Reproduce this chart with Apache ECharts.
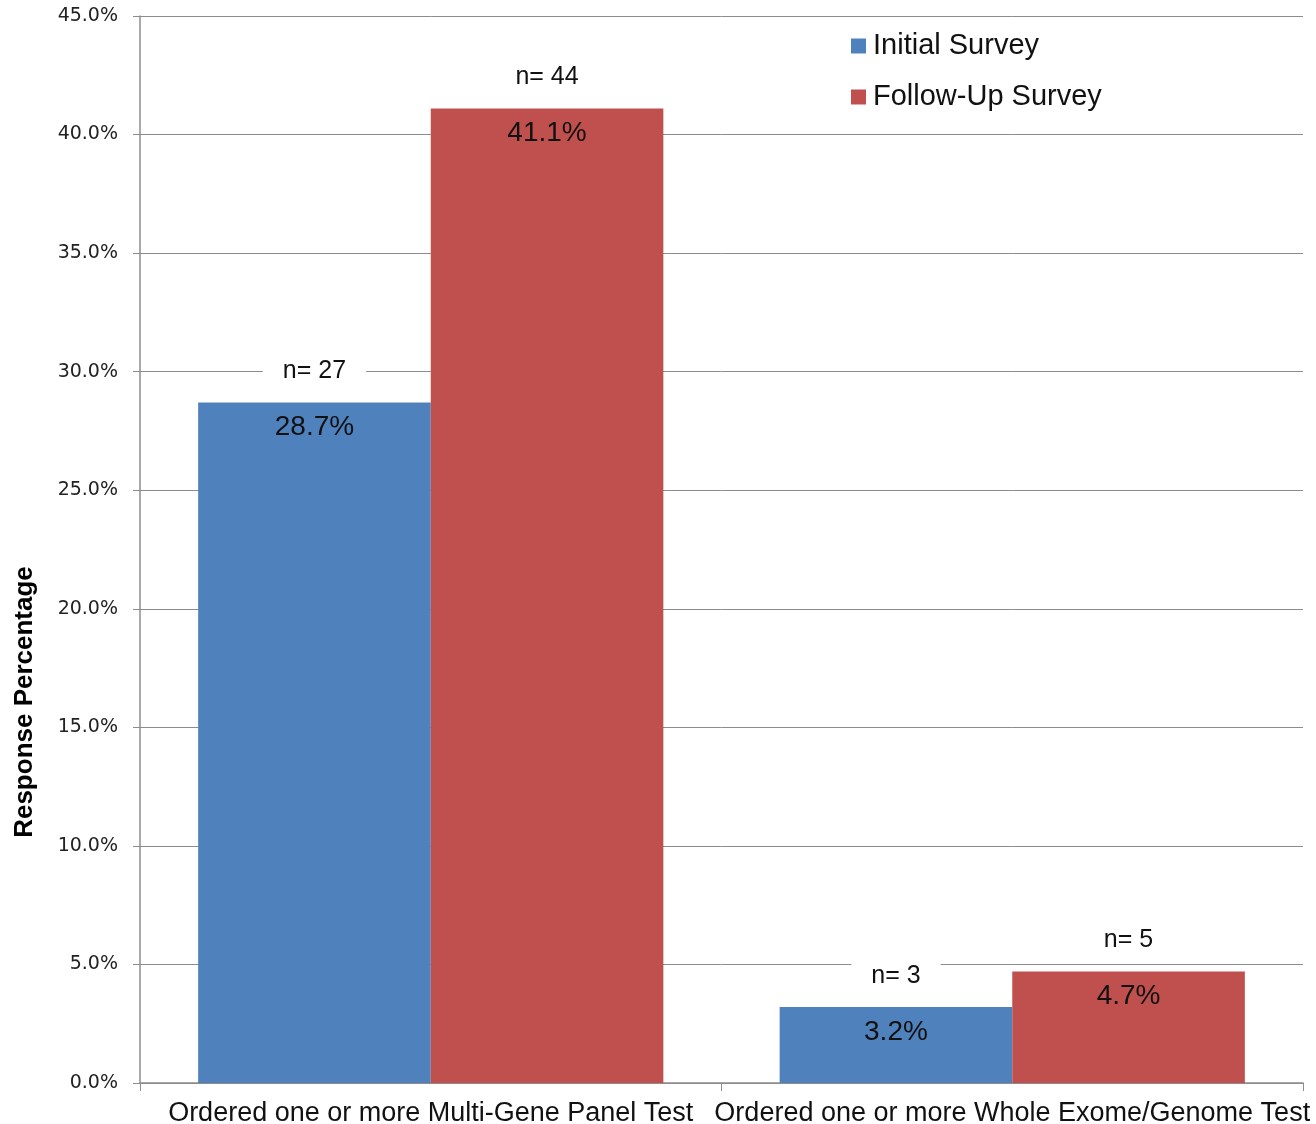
<!DOCTYPE html>
<html>
<head>
<meta charset="utf-8">
<script src="https://cdn.jsdelivr.net/npm/echarts@6/dist/echarts.min.js"></script>
<style>
  html, body { margin: 0; padding: 0; background: #fff; }
  #main { width: 1316px; height: 1124px; }
</style>
</head>
<body>
<div id="main"></div>
<script>
  var categories = ['Ordered one or more Multi-Gene Panel Test', 'Ordered one or more Whole Exome/Genome Test'];
  var seriesNames = ['Initial Survey', 'Follow-Up Survey'];
  var initialValues = [28.7, 3.2];
  var followUpValues = [41.1, 4.7];
  var initialCounts = [27, 3];
  var followUpCounts = [44, 5];

  var myChart = echarts.init(document.getElementById('main'));

  // "n= .." marker sitting above each bar, with a white box that cuts the gridline
  function countMarks(values, counts) {
    return {
      symbol: 'rect',
      symbolSize: 0,
      silent: true,
      label: {
        show: true,
        position: 'inside',
        offset: [0, -31],
        fontFamily: 'Liberation Sans',
        fontSize: 25,
        color: '#111',
        backgroundColor: '#fff',
        padding: [2, 20],
        formatter: function (p) { return 'n= ' + p.value; }
      },
      data: values.map(function (v, i) {
        return { coord: [categories[i], v], value: counts[i] };
      })
    };
  }

  function valueLabel() {
    return {
      show: true,
      position: 'insideTop',
      distance: 11,
      fontFamily: 'Liberation Sans',
      fontSize: 28,
      color: '#111',
      formatter: function (p) { return p.value.toFixed(1) + '%'; }
    };
  }

  var option = {
    animation: false,
    grid: { left: 140, right: 13, top: 16, bottom: 41, outerBoundsMode: 'none' },
    legend: {
      orient: 'vertical',
      left: 846,
      top: 26,
      itemWidth: 15,
      itemHeight: 15,
      itemGap: 21,
      icon: 'rect',
      data: seriesNames,
      textStyle: { fontFamily: 'Liberation Sans', fontSize: 29, lineHeight: 30, color: '#111', padding: [0, 0, 0, 2] }
    },
    graphic: [{
      type: 'text',
      x: 25,
      y: 702,
      rotation: Math.PI / 2,
      style: {
        text: 'Response Percentage',
        font: 'bold 26px "Liberation Sans"',
        fill: '#000',
        textAlign: 'center',
        textVerticalAlign: 'middle'
      }
    }],
    xAxis: {
      type: 'category',
      data: categories,
      axisLine: { lineStyle: { color: '#8c8c8c', width: 1.5 } },
      axisTick: { show: true, length: 8, lineStyle: { color: '#8c8c8c' } },
      axisLabel: { fontFamily: 'Liberation Sans', fontSize: 27, color: '#111', margin: 17, interval: 0 }
    },
    yAxis: {
      type: 'value',
      min: 0,
      max: 45,
      interval: 5,
      axisLine: { show: true, lineStyle: { color: '#8c8c8c', width: 1.5 } },
      axisTick: { show: true, length: 7, lineStyle: { color: '#8c8c8c' } },
      splitLine: { lineStyle: { color: '#8c8c8c', width: 1 } },
      axisLabel: {
        fontFamily: 'DejaVu Sans',
        fontSize: 19,
        color: '#222',
        margin: 22,
        formatter: function (v) { return v.toFixed(1) + '%'; }
      }
    },
    series: [{
      name: seriesNames[0],
      type: 'bar',
      data: initialValues,
      barGap: '0%',
      barCategoryGap: '20%',
      itemStyle: { color: '#4F81BD' },
      label: valueLabel(),
      markPoint: countMarks(initialValues, initialCounts)
    }, {
      name: seriesNames[1],
      type: 'bar',
      data: followUpValues,
      barGap: '0%',
      barCategoryGap: '20%',
      itemStyle: { color: '#C0504D' },
      label: valueLabel(),
      markPoint: countMarks(followUpValues, followUpCounts)
    }]
  };

  myChart.setOption(option);
</script>
</body>
</html>
